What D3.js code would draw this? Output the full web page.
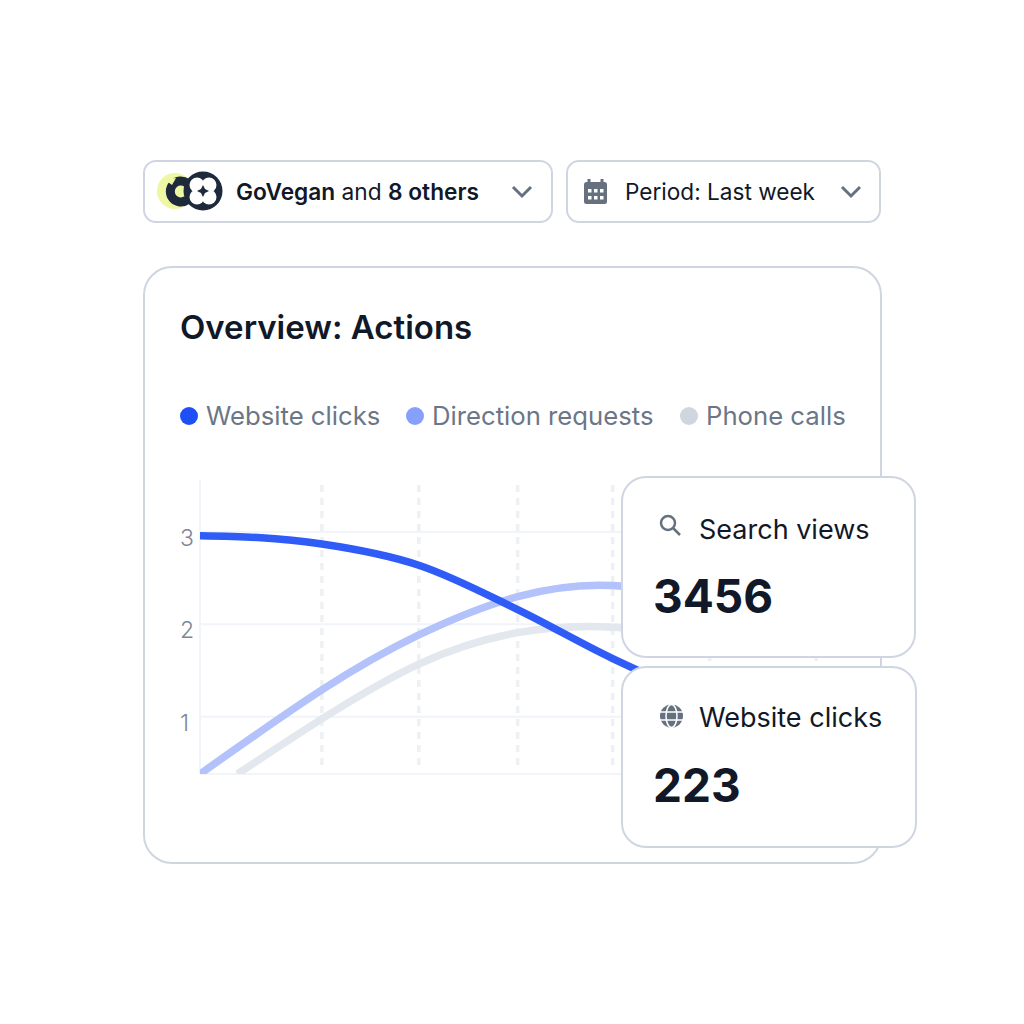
<!DOCTYPE html>
<html>
<head>
<meta charset="utf-8">
<script src="https://d3js.org/d3.v7.min.js"></script>
<style>
html, body { margin: 0; padding: 0; background: #fff; }
svg { display: block; font-family: Inter, sans-serif; }
</style>
</head>
<body>
<svg id="chart" width="1024" height="1024"></svg>
<script>
var yTicks = [1, 2, 3];
var gridDays = [1.27, 2.28, 3.31, 4.3, 5.31, 6.42];

var legendNames = ["Website clicks", "Direction requests", "Phone calls"];
var legendColors = ["#1f4ef5", "#86a0fb", "#cfd6e0"];

var clicksDays = [0, 0.6, 1.27, 2.28, 3.31, 4.3, 5.31, 6.7];
var clicksValues = [2.96, 2.94, 2.87, 2.64, 2.16, 1.63, 1.18, 0.8];
var requestsDays = [0, 1.27, 2.28, 3.31, 4.3, 5.31, 6.7];
var requestsValues = [0.38, 1.29, 1.885, 2.3, 2.42, 2.25, 2.0];
var callsDays = [0.39, 1.27, 2.28, 3.31, 4.3, 5.31, 6.7];
var callsValues = [0.38, 0.976, 1.57, 1.91, 1.97, 1.85, 1.7];

var svg = d3.select("#chart");
var ink = "#111827", muted = "#6b7686", line = "#cfd6e1", gridColor = "#f1f4f8";

function box(x, y, w, h, r) {
  svg.append("rect").attr("x", x).attr("y", y).attr("width", w).attr("height", h)
    .attr("rx", r).attr("fill", "#fff").attr("stroke", line).attr("stroke-width", 2);
}
function chevron(cx, cy) {
  svg.append("path").attr("d", "M" + (cx - 9) + " " + (cy - 5) + "L" + cx + " " + (cy + 4) + "L" + (cx + 9) + " " + (cy - 5))
    .attr("fill", "none").attr("stroke", "#667180").attr("stroke-width", 3);
}

// top controls
box(144, 161, 408, 61, 12);
box(567, 161, 313, 61, 12);
chevron(522, 192);
chevron(851, 192);

// avatars
svg.append("circle").attr("cx", 175).attr("cy", 191).attr("r", 18).attr("fill", "#eef7a4");
svg.append("path").attr("d", "M187 183A10.5 10.5 0 1 0 187 200")
  .attr("fill", "none").attr("stroke", "#1e293b").attr("stroke-width", 9);
svg.append("path").attr("d", "M164 179L172 185L176 178Z").attr("fill", "#eef7a4");
svg.append("circle").attr("cx", 203).attr("cy", 191).attr("r", 19.5).attr("fill", "#1e293b");
[[197, 185], [209, 185], [197, 197], [209, 197]].forEach(function (p) {
  svg.append("circle").attr("cx", p[0]).attr("cy", p[1]).attr("r", 7.5).attr("fill", "#fff");
});
svg.append("path").attr("d", "M203 185L205 189L209 191L205 193L203 197L201 193L197 191L201 189Z").attr("fill", "#1e293b");

var pick = svg.append("text").attr("x", 236).attr("y", 199.5).attr("font-size", 22.7).attr("fill", ink);
pick.append("tspan").attr("font-weight", 600).text("GoVegan");
pick.append("tspan").text(" and ");
pick.append("tspan").attr("font-weight", 600).text("8 others");

// calendar icon
svg.append("rect").attr("x", 584).attr("y", 182).attr("width", 23).attr("height", 22).attr("rx", 2.5).attr("fill", "#667180");
[589, 602].forEach(function (x) {
  svg.append("rect").attr("x", x - 1.5).attr("y", 179).attr("width", 3).attr("height", 6).attr("fill", "#667180");
});
[189, 196].forEach(function (y) {
  [588, 594, 600].forEach(function (x) {
    svg.append("rect").attr("x", x).attr("y", y).attr("width", 3.5).attr("height", 3.5).attr("fill", "#fff");
  });
});
svg.append("text").attr("x", 625).attr("y", 199.5).attr("font-size", 22.6).attr("fill", ink).text("Period: Last week");

// main card
box(144, 267, 737, 596, 28);
svg.append("text").attr("x", 180).attr("y", 339).attr("font-size", 33).attr("font-weight", 600).attr("fill", ink).text("Overview: Actions");

// legend
var legendDot = [189, 415, 689];
legendNames.forEach(function (name, i) {
  svg.append("circle").attr("cx", legendDot[i]).attr("cy", 416).attr("r", 9).attr("fill", legendColors[i]);
  svg.append("text").attr("x", legendDot[i] + 17).attr("y", 425).attr("font-size", 25.7).attr("fill", muted).text(name);
});

// chart
var x = d3.scaleLinear().domain([0, 6.7]).range([200, 843]);
var y = d3.scaleLinear().domain([0.38, 3]).range([774, 532]);
var plot = svg.append("g");

var yAxis = d3.axisLeft(y).tickValues(yTicks).tickSize(0).tickFormat(d3.format("d"));
var yG = plot.append("g").attr("transform", "translate(180,0)").call(yAxis);
yG.select(".domain").remove();
yG.selectAll("text").attr("x", 0).attr("dy", "0.72em").attr("text-anchor", "start").attr("transform", "translate(0,-3)")
  .attr("font-family", "Inter, sans-serif").attr("font-size", 23).attr("font-weight", 300).attr("fill", "#7d8796");

plot.selectAll("line.h").data(yTicks).enter().append("line").attr("class", "h")
  .attr("x1", x(0)).attr("x2", x(6.7)).attr("y1", y).attr("y2", y)
  .attr("stroke", gridColor).attr("stroke-width", 2);
plot.selectAll("line.v").data(gridDays).enter().append("line").attr("class", "v")
  .attr("x1", x).attr("x2", x).attr("y1", 485).attr("y2", 771)
  .attr("stroke", "#eef1f3").attr("stroke-width", 3.5).attr("stroke-dasharray", "7 6");
plot.append("line").attr("x1", 200).attr("x2", 200).attr("y1", 480).attr("y2", 774).attr("stroke", gridColor).attr("stroke-width", 2);
plot.append("line").attr("x1", 200).attr("x2", 843).attr("y1", 774).attr("y2", 774).attr("stroke", gridColor).attr("stroke-width", 2);

svg.append("clipPath").attr("id", "plotClip").append("rect").attr("x", 200).attr("y", 470).attr("width", 660).attr("height", 304);
var curve = d3.line().x(function (d) { return x(d[0]); }).y(function (d) { return y(d[1]); }).curve(d3.curveNatural);
var lines = plot.append("g").attr("clip-path", "url(#plotClip)").attr("fill", "none").attr("stroke-width", 7.5);
lines.append("path").attr("d", curve(d3.zip(callsDays, callsValues))).attr("stroke", "#e3e7ee");
lines.append("path").attr("d", curve(d3.zip(requestsDays, requestsValues))).attr("stroke", "#b3c2fb");
// the blue one starts flat, natural spline bulges there
lines.append("path").attr("d", curve.curve(d3.curveMonotoneX)(d3.zip(clicksDays, clicksValues))).attr("stroke", "#2f5bf7");

// stat cards
box(622, 477, 293, 180, 24);
box(622, 667, 294, 180, 24);

svg.append("circle").attr("cx", 668).attr("cy", 523).attr("r", 7).attr("fill", "none").attr("stroke", "#667180").attr("stroke-width", 2.5);
svg.append("line").attr("x1", 673).attr("y1", 528).attr("x2", 680).attr("y2", 535).attr("stroke", "#667180").attr("stroke-width", 2.5);
svg.append("text").attr("x", 699).attr("y", 538.5).attr("font-size", 27).attr("fill", ink).text("Search views");
svg.append("text").attr("x", 653).attr("y", 613).attr("font-size", 46).attr("font-weight", 700).attr("fill", ink).text("3456");

svg.append("circle").attr("cx", 671.5).attr("cy", 716).attr("r", 11.5).attr("fill", "#667180");
svg.append("ellipse").attr("cx", 671.5).attr("cy", 716).attr("rx", 5.5).attr("ry", 11.5).attr("fill", "none").attr("stroke", "#fff").attr("stroke-width", 1.5);
[712, 720].forEach(function (yy) {
  svg.append("line").attr("x1", 660).attr("x2", 683).attr("y1", yy).attr("y2", yy).attr("stroke", "#fff").attr("stroke-width", 1.5);
});
svg.append("text").attr("x", 699).attr("y", 726.5).attr("font-size", 27).attr("fill", ink).text("Website clicks");
svg.append("text").attr("x", 653).attr("y", 802).attr("font-size", 46).attr("font-weight", 700).attr("fill", ink).text("223");
</script>
</body>
</html>
